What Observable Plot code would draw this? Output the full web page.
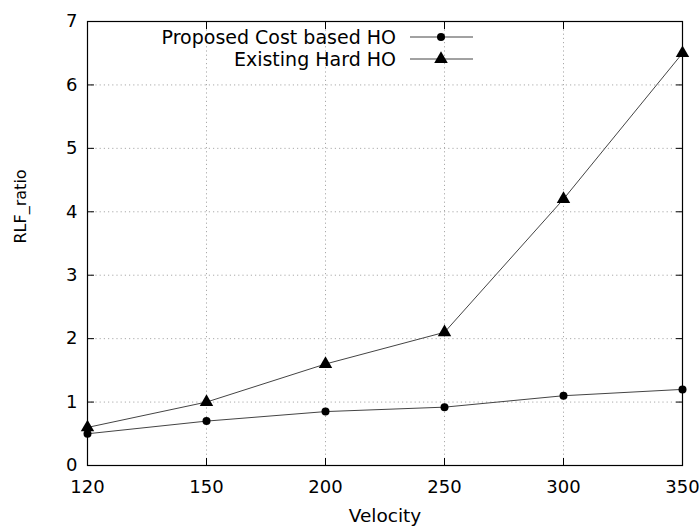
<!DOCTYPE html>
<html><head><meta charset="utf-8">
<script src="https://cdn.jsdelivr.net/npm/d3@7"></script>
<script src="https://cdn.jsdelivr.net/npm/@observablehq/plot@0.6"></script>
<style>
body{margin:0;background:#fff;font-family:"DejaVu Sans",sans-serif;}
#wrap{position:relative;width:700px;height:530px;}
#legend{position:absolute;left:0;top:0;width:700px;height:530px;font-size:19px;color:#000;z-index:2;pointer-events:none;}
.row{position:absolute;display:flex;align-items:center;white-space:nowrap;height:22px;}
</style>
</head><body>
<div id="wrap"></div>
<script>
const velocity = [120, 150, 200, 250, 300, 350];
const proposedCost = [0.5, 0.7, 0.85, 0.92, 1.1, 1.2];
const existingHard = [0.6, 1.0, 1.6, 2.1, 4.2, 6.5];
const yTicks = [0, 1, 2, 3, 4, 5, 6, 7];
const seriesNames = ["Proposed Cost based HO", "Existing Hard HO"];
const xLabel = "Velocity";
const yLabel = "RLF_ratio";

const rows = [];
velocity.forEach((v, i) => {
  rows.push({v, y: proposedCost[i], s: seriesNames[0]});
  rows.push({v, y: existingHard[i], s: seriesNames[1]});
});
const prop = rows.filter(d => d.s === seriesNames[0]);
const exist = rows.filter(d => d.s === seriesNames[1]);
const gridX = velocity.slice(1, -1);
const gridY = yTicks.slice(1, -1);
const font = "DejaVu Sans, sans-serif";

const chart = Plot.plot({
  width: 700, height: 530,
  marginLeft: 87, marginRight: 18, marginTop: 21, marginBottom: 65,
  style: {fontFamily: font, fontSize: "18px", background: "#fff", color: "#000"},
  x: {type: "point", domain: velocity, padding: 0},
  y: {domain: [0, 7]},
  marks: [
    Plot.ruleX(gridX, {stroke: "#aaa", strokeDasharray: "1.2,3", strokeWidth: 1}),
    Plot.ruleY(gridY, {stroke: "#aaa", strokeDasharray: "1.2,3", strokeWidth: 1}),
    Plot.axisX(velocity, {anchor: "bottom", tickSize: -7, tickPadding: 22, label: null, fontSize: 18, tickFormat: d => String(d)}),
    Plot.axisX(velocity, {anchor: "top", tickSize: -7, tickFormat: () => "", label: null}),
    Plot.axisY(yTicks, {anchor: "left", tickSize: -7, tickPadding: 17, label: null, fontSize: 18, tickFormat: d => String(d)}),
    Plot.axisY(yTicks, {anchor: "right", tickSize: -7, tickFormat: () => "", label: null}),
    Plot.text([xLabel], {frameAnchor: "bottom", dy: 56, fontSize: 18.5, text: d => d}),
    Plot.text([yLabel], {frameAnchor: "left", dx: -67, rotate: -90, fontSize: 16, text: d => d}),
    Plot.frame({stroke: "#000", strokeWidth: 1.2}),
    Plot.line(exist, {x: "v", y: "y", stroke: "#444", strokeWidth: 1}),
    Plot.line(prop, {x: "v", y: "y", stroke: "#444", strokeWidth: 1}),
    Plot.dot(exist, {x: "v", y: "y", symbol: "triangle", r: 5, fill: "#000"}),
    Plot.dot(prop, {x: "v", y: "y", symbol: "circle", r: 4, fill: "#000"})
  ]
});
const wrap = document.getElementById("wrap");
wrap.appendChild(chart);

// legend overlay
const legend = document.createElement("div");
legend.id = "legend";
wrap.appendChild(legend);
const symbols = ["circle", "triangle"];
seriesNames.forEach((name, i) => {
  const row = document.createElement("div");
  row.className = "row";
  row.style.right = (700 - 476) + "px";
  row.style.top = (26 + i * 21.5) + "px";
  const span = document.createElement("span");
  span.textContent = name;
  span.style.marginRight = "14px";
  row.appendChild(span);
  const sym = symbols[i] === "circle" ? d3.symbolCircle : d3.symbolTriangle;
  const size = symbols[i] === "circle" ? Math.PI * 16 : 80;
  const svg = d3.create("svg").attr("width", 66).attr("height", 22);
  svg.append("line").attr("x1", 0).attr("x2", 63).attr("y1", 11).attr("y2", 11).attr("stroke", "#444");
  svg.append("path").attr("d", d3.symbol(sym, size)()).attr("transform", "translate(31,11)").attr("fill", "#000");
  row.appendChild(svg.node());
  legend.appendChild(row);
});
</script>
</body></html>
